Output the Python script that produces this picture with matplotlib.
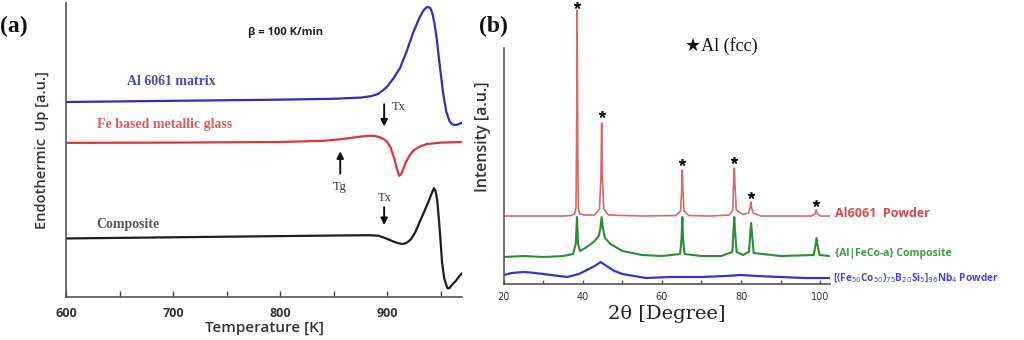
import matplotlib.pyplot as plt
from matplotlib.ticker import MultipleLocator

# ---------------- panel (a): DSC traces (temperature K, signal a.u.) ----------------
al_T = [600, 650, 700, 750, 800, 850, 875, 885, 891, 896, 900, 906, 912, 918, 924, 930, 934, 937, 940, 942,
        944, 946, 949, 952, 955, 958, 961, 964, 967, 970]
al_sig = [66.3, 66.5, 66.7, 66.9, 67.1, 67.4, 67.8, 68.3, 69.0, 70.3, 71.6, 74.5, 78.0, 83.5, 89.8, 95.0, 97.6,
          98.6, 98.3, 96.5, 93.0, 88.0, 78.5, 69.5, 63.0, 59.8, 58.6, 58.5, 58.8, 59.3]

mg_T = [600, 700, 800, 840, 856, 870, 881, 888, 893, 897, 900, 903, 906, 909, 911, 913, 917, 921, 925, 931,
        937, 950, 970]
mg_sig = [52.4, 52.5, 52.7, 53.1, 53.6, 54.3, 54.8, 54.8, 54.3, 53.6, 52.7, 50.8, 47.6, 43.5, 41.2, 41.8, 45.6,
          48.3, 50.0, 51.3, 52.0, 52.5, 52.7]

cp_T = [600, 700, 800, 850, 884, 892, 896, 901, 906, 910, 914, 918, 922, 926, 931, 935, 939, 942, 943.5, 945,
        946.5, 948, 949.5, 951, 953, 956, 958, 960, 964, 967, 970]
cp_sig = [19.9, 20.3, 20.7, 20.9, 21.0, 20.8, 20.3, 19.6, 18.8, 18.3, 18.0, 18.4, 19.6, 22.0, 26.2, 29.5, 33.0,
          35.8, 37.0, 36.0, 33.0, 27.0, 20.0, 12.0, 6.5, 3.0, 3.0, 4.0, 5.5, 7.0, 8.2]

# ---------------- panel (b): XRD patterns (2theta deg, intensity a.u.) ----------------
al_2t = [20, 30, 35, 37.0, 37.9, 38.25, 38.4, 38.55, 38.7, 38.85, 39.2, 40.5, 43.0, 44.2, 44.55, 44.75, 44.95,
         45.3, 46.5, 55, 63.5, 64.7, 64.95, 65.15, 65.35, 65.6, 66.8, 72, 77.0, 77.9, 78.1, 78.3, 78.5, 78.8,
         80.5, 81.9, 82.3, 82.5, 82.7, 83.1, 85, 97.8, 98.7, 99.0, 99.3, 100.2, 102.5]
al_int = [68, 68, 68, 68.5, 70, 76, 140, 274, 140, 76, 70, 69, 69, 75, 105, 161, 105, 75, 69, 68, 68.5, 73, 90,
          114, 90, 73, 68.5, 68, 69, 74, 98, 116, 98, 74, 69.5, 71, 76, 82, 76, 71, 68, 68, 70, 74, 70, 68, 68]

cmp_2t = [20, 25, 30, 35, 37.5, 38.2, 38.5, 38.8, 39.3, 41, 43, 44.0, 44.4, 44.75, 45.1, 45.6, 47, 50, 55, 60,
          64.6, 64.95, 65.15, 65.35, 65.7, 70, 75, 77.8, 78.05, 78.3, 78.55, 78.9, 80.5, 82.0, 82.35, 82.55,
          82.8, 83.2, 90, 98.4, 98.8, 99.1, 99.4, 99.9, 102.5]
cmp_int = [27, 28, 27, 28, 30, 40, 67, 40, 33, 37, 43, 48, 55, 67, 55, 46, 40, 33, 29, 28, 30, 45, 67, 45, 30,
           28, 28, 32, 50, 67, 50, 32, 29, 32, 50, 61, 50, 31, 28, 29, 38, 46, 38, 29, 28]

fe_2t = [20, 22, 25, 28, 32, 36, 39, 41, 43, 44.5, 46, 48, 50, 53, 56, 62, 70, 76, 80, 84, 90, 96, 102.5]
fe_int = [9, 11, 12, 11, 9, 7, 10, 14, 18, 22, 18, 13, 10, 8, 6, 7, 7, 8, 9, 8, 7, 6, 6]

star_2t = [38.5, 44.75, 65.15, 78.3, 82.5, 99.0]
star_int = [279, 170, 122, 124, 89, 81]

fig = plt.figure(figsize=(10.24, 3.4), dpi=100)

# ============================ (a) ============================
ax1 = fig.add_axes([0.0645, 0.1265, 0.387, 0.865])
ax1.plot(al_T, al_sig, color='#2f2fbf', lw=1.6)
ax1.plot(mg_T, mg_sig, color='#d83a3a', lw=1.6)
ax1.plot(cp_T, cp_sig, color='#1e1e1e', lw=1.6)
ax1.set_xlim(600, 970)
ax1.set_ylim(0, 100)
ax1.set_yticks([])
ax1.xaxis.set_major_locator(MultipleLocator(100))
ax1.xaxis.set_minor_locator(MultipleLocator(50))
ax1.tick_params(axis='x', which='both', direction='in', length=4, width=1, colors='#444')
ax1.tick_params(axis='x', labelsize=9, labelcolor='#333', pad=7)
for lbl in ax1.get_xticklabels():
    lbl.set_fontweight('bold')
    lbl.set_family('Open Sans')
for s in ['top', 'right']:
    ax1.spines[s].set_visible(False)
for s in ['left', 'bottom']:
    ax1.spines[s].set_color('#555')
    ax1.spines[s].set_linewidth(1.2)
ax1.set_xlabel('Temperature [K]', fontsize=11, family='Open Sans', fontweight='semibold', color='#333', labelpad=1)
ax1.set_ylabel('Endothermic  Up [a.u.]', fontsize=10.5, family='Open Sans', fontweight='semibold',
               color='#333', labelpad=6, y=0.5)
ax1.yaxis.set_label_coords(-0.043, 0.5)

ser = 'Liberation Serif'
ax1.text(0.155, 0.72, 'Al 6061 matrix', transform=ax1.transAxes, color='#4a4ab8', fontsize=10,
         family=ser, fontweight='bold')
ax1.text(0.077, 0.575, 'Fe based metallic glass', transform=ax1.transAxes, color='#e05a5a', fontsize=10,
         family=ser, fontweight='bold')
ax1.text(0.077, 0.235, 'Composite', transform=ax1.transAxes, color='#555', fontsize=10,
         family=ser, fontweight='bold')
ax1.text(0.46, 0.89, 'β = 100 K/min', transform=ax1.transAxes, color='#222', fontsize=8,
         family='Open Sans', fontweight='bold')

arrow = dict(arrowstyle='-|>', color='#111', lw=1.4, mutation_scale=10)
ax1.annotate('', xy=(897, 57), xytext=(897, 66.5), arrowprops=arrow)
ax1.text(904, 63.5, 'Tx', fontsize=9, family=ser, color='#333')
ax1.annotate('', xy=(856, 50.5), xytext=(856, 41), arrowprops=arrow)
ax1.text(849, 36.5, 'Tg', fontsize=9, family=ser, color='#333')
ax1.annotate('', xy=(897, 23.5), xytext=(897, 31.5), arrowprops=arrow)
ax1.text(891, 32.5, 'Tx', fontsize=9, family=ser, color='#333')

fig.text(0.0, 0.905, '(a)', fontsize=17, family=ser, fontweight='bold', color='#111')

# ============================ (b) ============================
ax2 = fig.add_axes([0.492, 0.1647, 0.3185, 0.835])
ax2.plot(cmp_2t, cmp_int, color='#2e8b36', lw=1.5)
ax2.plot(al_2t, al_int, color='#d86a6a', lw=1.2)
ax2.plot(fe_2t, fe_int, color='#3535d0', lw=1.6)
ax2.plot(star_2t, star_int, ls='none', marker=(5, 2, 0), ms=5, mew=1.1, color='#111')
ax2.set_xlim(20, 102.5)
ax2.set_ylim(0, 284)
ax2.set_yticks([])
ax2.spines['left'].set_bounds(0, 236)
for s in ['top', 'right']:
    ax2.spines[s].set_visible(False)
for s in ['left', 'bottom']:
    ax2.spines[s].set_color('#555')
    ax2.spines[s].set_linewidth(1.2)
ax2.xaxis.set_major_locator(MultipleLocator(20))
ax2.xaxis.set_minor_locator(MultipleLocator(10))
ax2.tick_params(axis='x', which='both', direction='in', length=3, width=1, colors='#555')
ax2.tick_params(axis='x', labelsize=7, labelcolor='#333', pad=6)
ax2.set_xlabel('2θ [Degree]', fontsize=14, family='DejaVu Serif', color='#222', labelpad=2)
ax2.set_ylabel('Intensity [a.u.]', fontsize=11.5, family='Open Sans', fontweight='semibold', color='#333')
ax2.yaxis.set_label_coords(-0.04, 0.52)

ax2.text(0.555, 0.82, '★Al (fcc)', transform=ax2.transAxes, fontsize=13, family=['Liberation Serif', 'DejaVu Sans'],
         color='#111')
ax2.text(1.015, 0.235, 'Al6061  Powder', transform=ax2.transAxes, fontsize=9, family='Open Sans',
         fontweight='bold', color='#d84848')
ax2.text(1.015, 0.1, '{Al|FeCo-a} Composite', transform=ax2.transAxes, fontsize=7.5, family='Open Sans',
         fontweight='bold', color='#3d9a45')
ax2.text(1.01, 0.01, r'[(Fe$_{50}$Co$_{50}$)$_{75}$B$_{20}$Si$_{5}$]$_{96}$Nb$_{4}$ Powder',
         transform=ax2.transAxes, fontsize=7.2, family='Open Sans', fontweight='bold', color='#4545d0')

fig.text(0.468, 0.905, '(b)', fontsize=17, family=ser, fontweight='bold', color='#111')

fig.savefig('out.png', dpi=100)
